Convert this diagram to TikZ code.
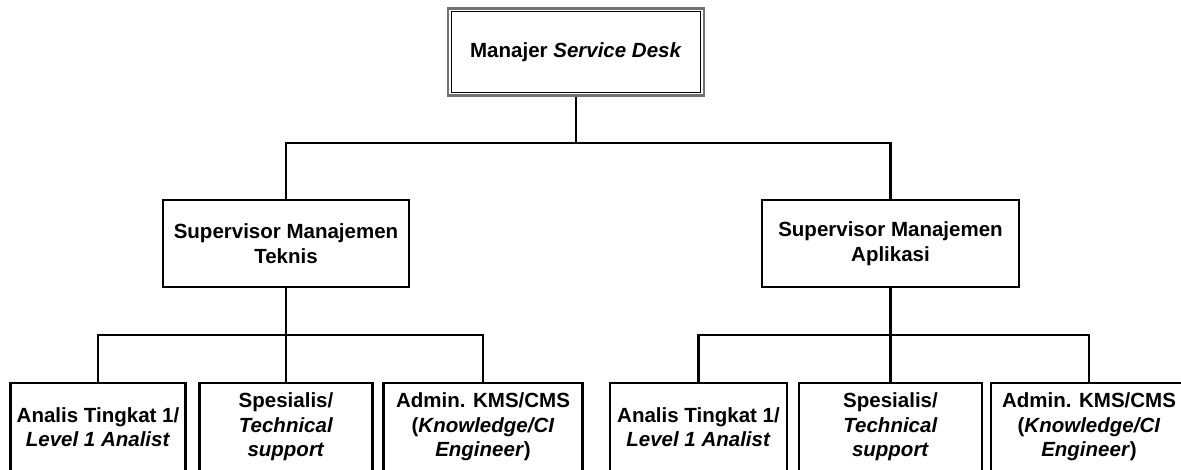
\documentclass[tikz,border=0pt]{standalone}
\usepackage{fontspec}
\setmainfont{Liberation Sans}
\begin{document}
\begin{tikzpicture}[x=1pt,y=-1pt,
  unit/.style={draw=black, line width=2.2pt, fill=white, rectangle, inner sep=0pt,
    align=center, minimum height=87pt,
    font=\fontsize{20.5}{24.6}\selectfont\bfseries},
  head/.style={unit, draw=black!55, line width=2.6pt},
  link/.style={line width=2.7pt, draw=black}]
\useasboundingbox (0,0) rectangle (1181,470);
\clip (0,0) rectangle (1181,470);

% head of the service desk
\node[head, minimum width=256pt] (top) at (576,52) {Manajer \textit{Service Desk}};
\draw[line width=1.2pt, black] ([shift={(4.5,4.5)}]top.north west) rectangle ([shift={(-4.5,-4.5)}]top.south east);

% supervisors
\node[unit, minimum width=246pt] (sup1) at (286,243.5) {Supervisor Manajemen\\Teknis};
\node[unit, minimum width=257pt] (sup2) at (890.5,243.5) {Supervisor Manajemen\\Aplikasi};

% staff under the technical supervisor
\node[unit, minimum width=175pt, minimum height=88pt] (b1) at (98,427) {Analis Tingkat 1/\\\textit{Level 1 Analist}};
\node[unit, minimum width=173pt, minimum height=88pt] (b2) at (286,427) {Spesialis/\\\textit{Technical}\\\textit{support}};
\node[unit, minimum width=199pt, minimum height=88pt] (b3) at (483,427) {Admin. KMS/CMS\\(\textit{Knowledge/CI}\\\textit{Engineer})};

% staff under the application supervisor
\node[unit, minimum width=177pt, minimum height=88pt] (b4) at (698.5,427) {Analis Tingkat 1/\\\textit{Level 1 Analist}};
\node[unit, minimum width=183pt, minimum height=88pt] (b5) at (890.5,427) {Spesialis/\\\textit{Technical}\\\textit{support}};
\node[unit, minimum width=196pt, minimum height=88pt] (b6) at (1089,427) {Admin. KMS/CMS\\(\textit{Knowledge/CI}\\\textit{Engineer})};

% junction points of the tree
\coordinate (j0) at (top.south |- 0,143);
\coordinate (j1) at (sup1.south |- 0,335);
\coordinate (j2) at (sup2.south |- 0,335);

\draw[link] (top.south) -- (j0);
\draw[link] (sup1.north) |- (j0) -| (sup2.north);

\draw[link] (sup1.south) -- (j1);
\draw[link] (b1.north) |- (j1) -| (b3.north);
\draw[link] (j1) -- (b2.north);

\draw[link] (sup2.south) -- (j2);
\draw[link] (b4.north) |- (j2) -| (b6.north);
\draw[link] (j2) -- (b5.north);
\end{tikzpicture}
\end{document}
